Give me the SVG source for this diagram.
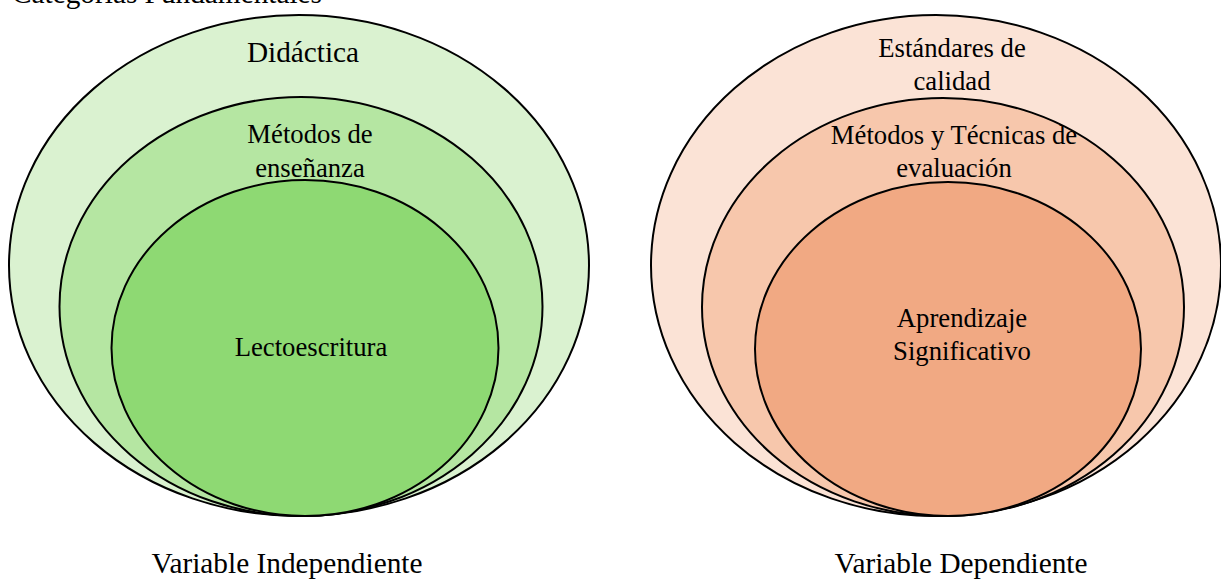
<svg xmlns="http://www.w3.org/2000/svg" width="1221" height="579" viewBox="0 0 1221 579">
<style>
.e{stroke:#000;stroke-width:2}
text{font-family:"Liberation Serif","Times New Roman",serif;fill:#000;text-anchor:middle}
.t{font-size:26.7px}
.b{font-size:29.3px}
</style>
<rect width="1221" height="579" fill="#fff"/>
<text class="b" x="12" y="3" style="text-anchor:start">Categorías Fundamentales</text>
<g id="didactica">
<ellipse class="e" cx="299" cy="265.5" rx="290" ry="250.5" fill="#DAF2D0"/>
<text class="b" x="303" y="62">Didáctica</text>
</g>
<g id="metodos-ensenanza">
<ellipse class="e" cx="301" cy="306.5" rx="241.5" ry="209.5" fill="#B5E6A2"/>
<text class="t" x="310" y="143">Métodos de</text>
<text class="t" x="310" y="177">enseñanza</text>
</g>
<g id="lectoescritura">
<ellipse class="e" cx="305" cy="348" rx="193.5" ry="168" fill="#8ED973"/>
<text class="t" x="311" y="356">Lectoescritura</text>
</g>
<g id="estandares">
<ellipse class="e" cx="936" cy="265.5" rx="285" ry="250.5" fill="#FBE3D6"/>
<text class="t" x="952" y="57">Estándares de</text>
<text class="t" x="952" y="90">calidad</text>
</g>
<g id="metodos-evaluacion">
<ellipse class="e" cx="943" cy="307" rx="241" ry="209" fill="#F7C7AC"/>
<text class="t" x="954" y="144">Métodos y Técnicas de</text>
<text class="t" x="954" y="177">evaluación</text>
</g>
<g id="aprendizaje">
<ellipse class="e" cx="948" cy="349" rx="193" ry="167" fill="#F1A983"/>
<text class="t" x="962" y="327">Aprendizaje</text>
<text class="t" x="962" y="360">Significativo</text>
</g>
<g id="connectors"></g>
<text class="b" x="287" y="573">Variable Independiente</text>
<text class="b" x="961" y="573">Variable Dependiente</text>
</svg>
